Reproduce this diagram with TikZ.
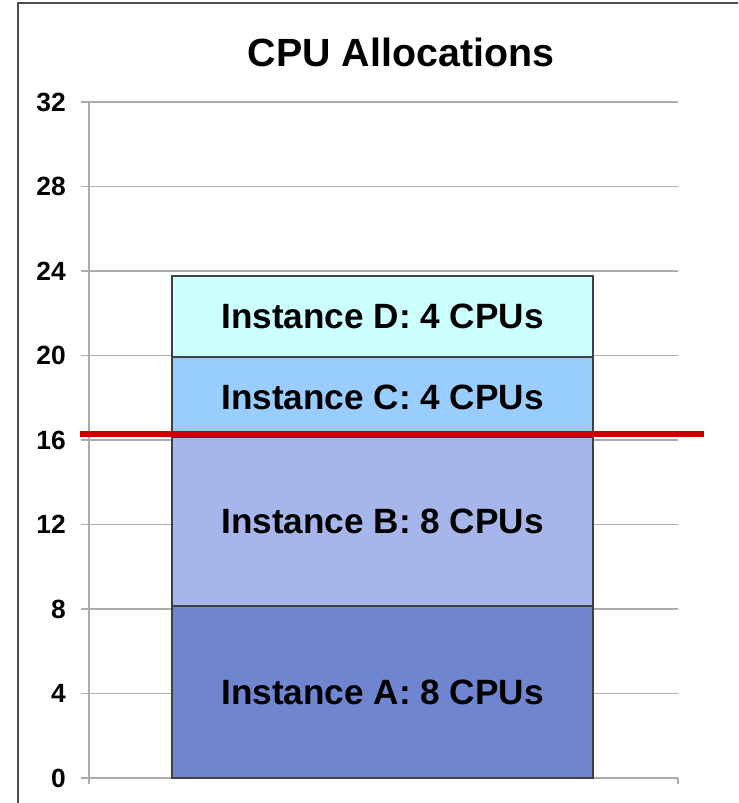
\documentclass[tikz,border=0pt]{standalone}
\usepackage{fontspec}
\setmainfont{Liberation Sans}
\usetikzlibrary{positioning}
\definecolor{instA}{HTML}{6F85D0}
\definecolor{instB}{HTML}{A7B6EA}
\definecolor{instC}{HTML}{99CCFF}
\definecolor{instD}{HTML}{CCFFFF}
\definecolor{limitred}{HTML}{C00000}

\begin{document}
\begin{tikzpicture}[
		seg/.style={draw=black!75, line width=0.5pt, minimum width=4.21cm, inner sep=0pt, outer sep=0pt, anchor=south, font=\fontsize{10}{12}\selectfont\bfseries},
		gridline/.style={gray!65, line width=0.45pt},
		ticklabel/.style={anchor=east, inner sep=0pt, font=\fontsize{7.5}{9}\selectfont\bfseries}]
		\useasboundingbox (0,0) rectangle (7.38,8.03);
		\draw[black!70, line width=0.6pt] (0.18,0) -- (0.18,8.0) -- (7.38,8.0);
		\node (title) at (4.01,7.51) {\fontsize{11.2}{13}\selectfont\bfseries CPU Allocations};
%		grid and axis
		\foreach \v in {0,4,...,32} {
			\draw[gridline] (0.81,{0.25+\v*0.21125}) -- (6.78,{0.25+\v*0.21125});
			\node[ticklabel] (tick\v) at (0.665,{0.25+\v*0.21125}) {\v};
		}
		\draw[gridline] (0.89,0.19) -- (0.89,7.01);
		\draw[gridline] (6.78,0.19) -- (6.78,0.25);
%		stacked bar
		\node[seg, fill=instA, minimum height=1.72cm] (instA) at (3.825,0.25) {Instance A: 8 CPUs};
		\node[seg, fill=instB, minimum height=1.69cm, above=0pt of instA] (instB) {Instance B: 8 CPUs};
		\node[seg, fill=instC, minimum height=0.80cm, above=0pt of instB] (instC) {Instance C: 4 CPUs};
		\node[seg, fill=instD, minimum height=0.81cm, above=0pt of instC] (instD) {Instance D: 4 CPUs};
%		limit line
		\draw[limitred, line width=1.7pt] (0.80,3.69) -- (7.04,3.69);
	\end{tikzpicture}
\end{document}
